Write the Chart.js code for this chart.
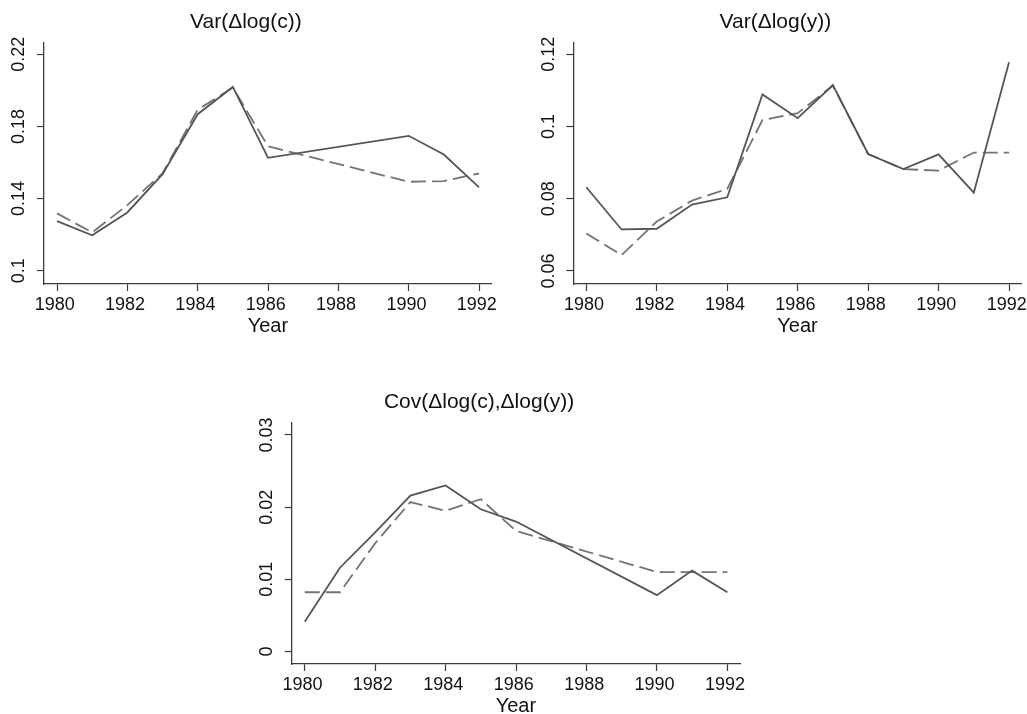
<!DOCTYPE html>
<html>
<head>
<meta charset="utf-8">
<script src="https://cdn.jsdelivr.net/npm/chart.js@4"></script>
<style>
  html, body { margin: 0; padding: 0; background: #fff; overflow: hidden; }
  body { width: 1027px; height: 714px; position: relative; }
  canvas { position: absolute; }
</style>
</head>
<body>
<canvas id="var_c" width="510" height="340" style="left:0px;top:0px"></canvas>
<canvas id="var_y" width="498" height="340" style="left:529px;top:0px"></canvas>
<canvas id="cov_cy" width="540" height="340" style="left:218px;top:380px"></canvas>
<script>
// years (consumption based moments are missing for 1987-1989)
const years = [1980, 1981, 1982, 1983, 1984, 1985, 1986, 1987, 1988, 1989, 1990, 1991, 1992];
const cYears = [1980, 1981, 1982, 1983, 1984, 1985, 1986, 1990, 1991, 1992];

// Var(dlog c): actual (solid) and fitted (dashed)
const varDcActual = [0.1275, 0.1196, 0.1323, 0.1535, 0.1868, 0.2019, 0.1626, 0.1748, 0.1644, 0.1462];
const varDcFitted = [0.1318, 0.1212, 0.1364, 0.1539, 0.1893, 0.2015, 0.1690, 0.1493, 0.1497, 0.1539];

// Var(dlog y)
const varDyActual = [0.0832, 0.0715, 0.0717, 0.0784, 0.0804, 0.1089, 0.1023, 0.1115, 0.0924, 0.0882, 0.0923, 0.0817, 0.1178];
const varDyFitted = [0.0704, 0.0644, 0.0737, 0.0795, 0.0827, 0.1018, 0.1037, 0.1113, 0.0924, 0.0882, 0.0878, 0.0928, 0.0928];

// Cov(dlog c, dlog y)
const covActual = [0.0041, 0.0116, 0.0165, 0.0216, 0.0230, 0.0197, 0.0180, 0.0078, 0.0112, 0.0082];
const covFitted = [0.0082, 0.0082, 0.0150, 0.0207, 0.0195, 0.0211, 0.0167, 0.0110, 0.0110, 0.0110];

// tick labels
const xTicks = [1980, 1982, 1984, 1986, 1988, 1990, 1992];
const varDcTicks = [0.1, 0.14, 0.18, 0.22];
const varDyTicks = [0.06, 0.08, 0.1, 0.12];
const covTicks = [0, 0.01, 0.02, 0.03];

const FONT = "'Liberation Sans', Arial, Helvetica, sans-serif";
const TEXT = '#111111';
const AXIS = '#3c3c3c';

function pts(xs, ys) {
    return xs.map(function(x, i) { return {x: x, y: ys[i]}; });
}

function makePanel(id, title, xs, solid, dashed, yMin, yMax, yTicks, yAxisWidth, padRight) {
    return new Chart(document.getElementById(id), {
        type: 'line',
        data: {
            datasets: [
                {
                    data: pts(xs, solid),
                    borderColor: '#555555',
                    borderWidth: 1.8,
                    pointRadius: 0,
                    tension: 0,
                    fill: false
                },
                {
                    data: pts(xs, dashed),
                    borderColor: '#737373',
                    borderWidth: 1.8,
                    borderDash: [15, 6],
                    pointRadius: 0,
                    tension: 0,
                    fill: false
                }
            ]
        },
        options: {
            responsive: false,
            animation: false,
            events: [],
            layout: { padding: { left: 0, right: padRight, top: 0, bottom: 0 } },
            plugins: {
                legend: { display: false },
                tooltip: { enabled: false },
                title: {
                    display: true,
                    text: title,
                    color: TEXT,
                    font: { family: FONT, size: 21, weight: 'normal' },
                    padding: { top: 10.1, bottom: 7 }
                }
            },
            scales: {
                x: {
                    type: 'linear',
                    min: 1979.63,
                    max: 1992.36,
                    afterBuildTicks: function(axis) {
                        axis.ticks = xTicks.map(function(v) { return {value: v}; });
                    },
                    afterFit: function(axis) {
                        axis.height = 56;
                        axis.paddingLeft = 0;
                        axis.paddingRight = 0;
                    },
                    border: { display: true, color: AXIS, width: 1.3 },
                    grid: { drawOnChartArea: false, drawTicks: true, tickLength: 7, tickColor: AXIS, tickWidth: 1.2 },
                    ticks: {
                        autoSkip: false,
                        maxRotation: 0,
                        padding: 3.7,
                        labelOffset: -2.3,
                        color: TEXT,
                        font: { family: FONT, size: 18 },
                        callback: function(value) { return String(value); }
                    },
                    title: {
                        display: true,
                        text: 'Year',
                        color: TEXT,
                        font: { family: FONT, size: 20 },
                        padding: { top: 0, bottom: 1.3 }
                    }
                },
                y: {
                    type: 'linear',
                    min: yMin,
                    max: yMax,
                    afterBuildTicks: function(axis) {
                        axis.ticks = yTicks.map(function(v) { return {value: v}; });
                    },
                    afterFit: function(axis) {
                        axis.width = yAxisWidth;
                        axis.paddingTop = 0;
                        axis.paddingBottom = 0;
                    },
                    border: { display: true, color: AXIS, width: 1.3 },
                    grid: { drawOnChartArea: false, drawTicks: true, tickLength: 7, tickColor: AXIS, tickWidth: 1.2 },
                    ticks: {
                        autoSkip: false,
                        minRotation: 90,
                        maxRotation: 90,
                        crossAlign: 'center',
                        padding: 0,
                        color: TEXT,
                        font: { family: FONT, size: 18 },
                        callback: function(value) { return String(+value.toFixed(4)); }
                    }
                }
            }
        }
    });
}

makePanel('var_c', 'Var(\u0394log(c))', cYears, varDcActual, varDcFitted, 0.09262, 0.22666, varDcTicks, 44, 18.3);
makePanel('var_y', 'Var(\u0394log(y))', years, varDyActual, varDyFitted, 0.0564, 0.12332, varDyTicks, 44.3, 5.3);
makePanel('cov_cy', 'Cov(\u0394log(c),\u0394log(y))', cYears, covActual, covFitted, -0.001745, 0.03176, covTicks, 73.7, 18);
</script>
</body>
</html>
